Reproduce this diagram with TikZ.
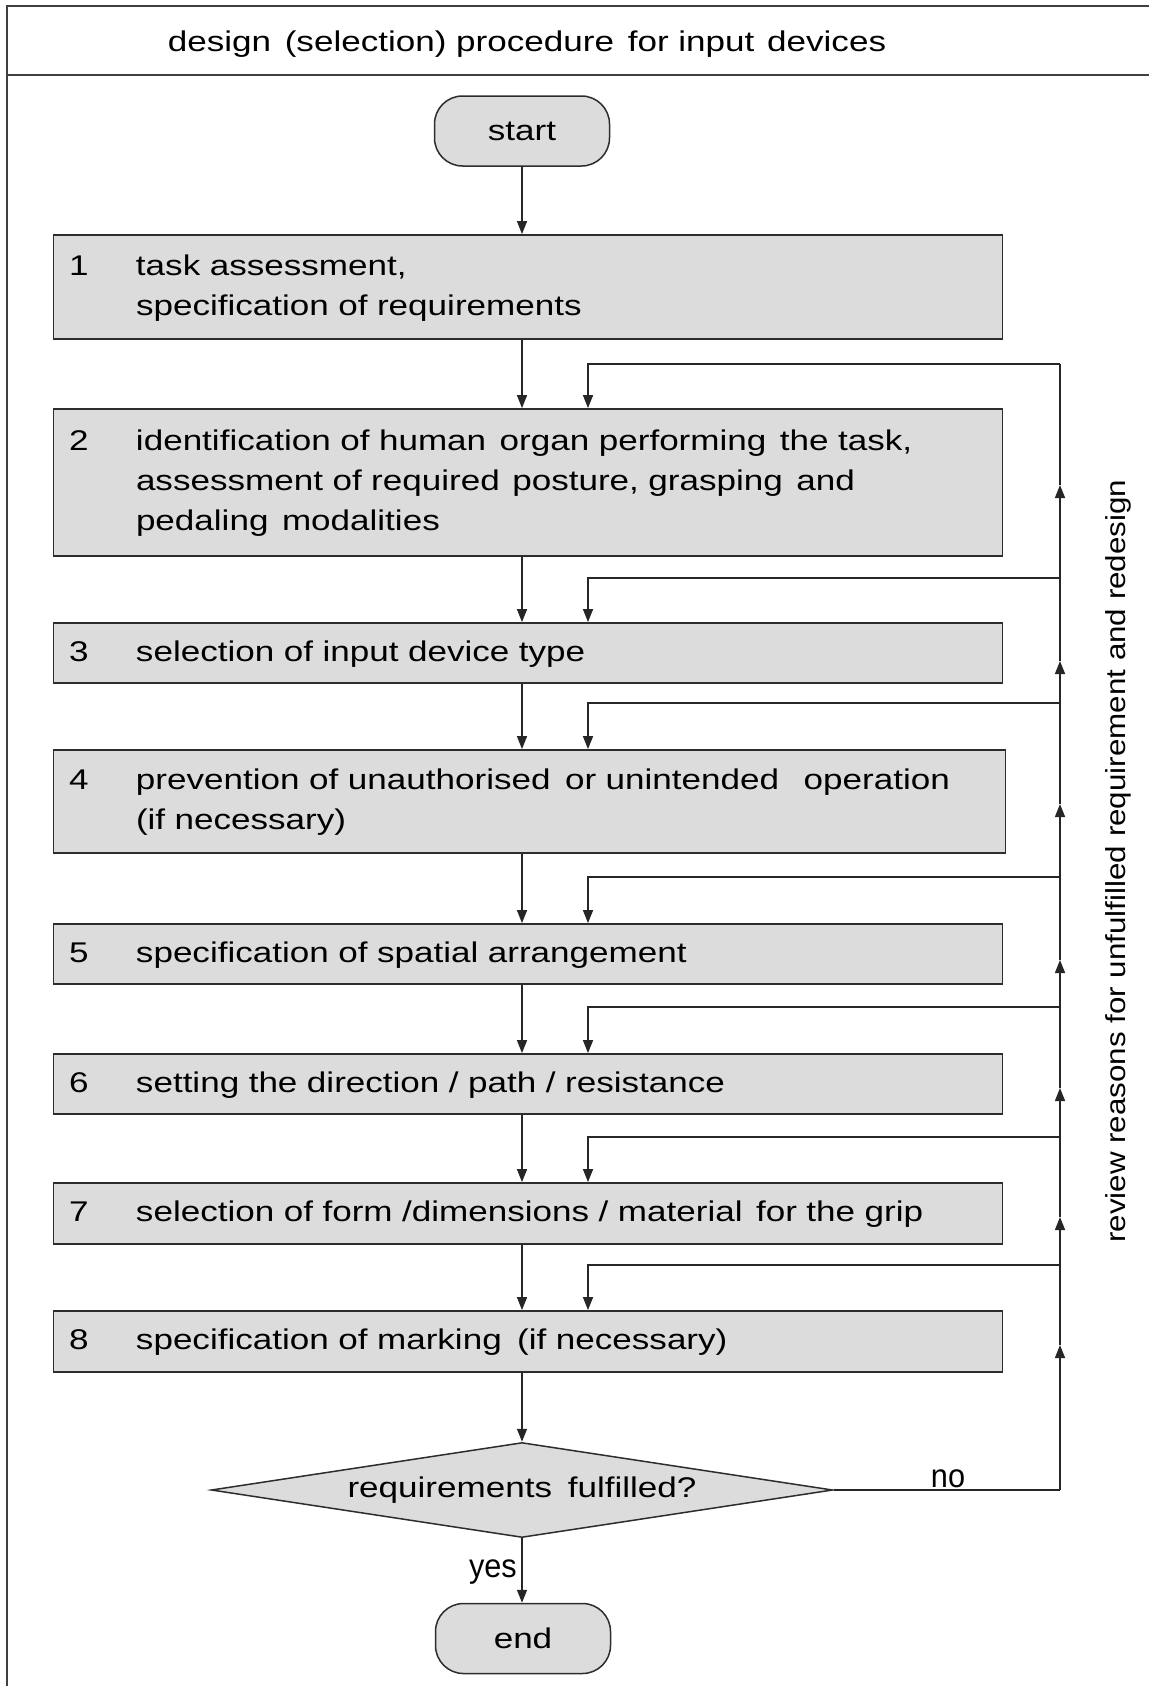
\documentclass[tikz,border=0pt]{standalone}
\usepackage{fontspec}
\setmainfont[FakeStretch=1.23]{Liberation Sans}
\newfontfamily\rotfont[FakeStretch=1.14]{Liberation Sans}
\newfontfamily\lblfont[FakeStretch=0.93]{Liberation Sans}
\usetikzlibrary{arrows.meta,shapes.geometric}
\definecolor{boxfill}{RGB}{220,220,220}
\definecolor{edgecol}{RGB}{45,45,45}
\newcommand\bxfont{\fontsize{28.5pt}{40pt}\selectfont}
\newcommand\rotsize{\rotfont\fontsize{27.5pt}{30pt}\selectfont}
\newcommand\lblsize{\lblfont\fontsize{33pt}{36pt}\selectfont}
\begin{document}
\begin{tikzpicture}[x=1pt, y=-1pt, font=\bxfont,
  stepbox/.style={draw=edgecol, line width=1.8pt, fill=boxfill, rectangle,
    inner xsep=15.5pt, inner ysep=0pt, text width=918pt, align=left, minimum height=#1},
  term/.style={draw=edgecol, line width=1.5pt, fill=boxfill, rounded corners=28pt,
    minimum width=175pt, minimum height=70pt, inner sep=0pt},
  decision/.style={diamond, draw=edgecol, line width=1.5pt, fill=boxfill, aspect=6.5,
    minimum width=621.5pt, minimum height=95pt, inner sep=0pt},
  conn/.style={line width=1.5pt, draw=black!85},
  arr/.style={conn, -{Triangle[length=13pt,width=10pt]}},
  framel/.style={line width=2pt, draw=black!75},
  lbl/.style={font=\lblsize, inner sep=0pt}
]
\useasboundingbox (0,0) rectangle (1149,1686);
% frame
\draw[framel] (1149,6) -- (7,6) -- (7,1686);
\draw[framel] (7,75) -- (1149,75);
\node[anchor=base, inner sep=0pt] (title) at (527,52) {design\hspace{4pt} (selection) procedure\hspace{4pt} for input\hspace{3pt} devices};

% nodes
\node[term] (start) at (522,131) {start};
\node[stepbox=104pt] (s1) at (528,287) {\begin{tabular}{@{}p{67pt}@{}l@{}}1 & task assessment,\\ & specification of requirements\end{tabular}};
\node[stepbox=147pt] (s2) at (528,482.5) {\begin{tabular}{@{}p{67pt}@{}l@{}}2 & identification of human\hspace{4pt} organ performing\hspace{4pt} the task,\\ & assessment of required\hspace{3pt} posture, grasping\hspace{4pt} and\\ & pedaling\hspace{4pt} modalities\end{tabular}};
\node[stepbox=60pt] (s3) at (528,653) {\begin{tabular}{@{}p{67pt}@{}l@{}}3 & selection of input device type\end{tabular}};
\node[stepbox=103pt, text width=921pt] (s4) at (529.5,801.5) {\begin{tabular}{@{}p{67pt}@{}l@{}}4 & prevention of unauthorised\hspace{5pt} or unintended\hspace{15pt} operation\\ & (if necessary)\end{tabular}};
\node[stepbox=60pt] (s5) at (528,954) {\begin{tabular}{@{}p{67pt}@{}l@{}}5 & specification of spatial arrangement\end{tabular}};
\node[stepbox=60pt] (s6) at (528,1084) {\begin{tabular}{@{}p{67pt}@{}l@{}}6 & setting the direction / path / resistance\end{tabular}};
\node[stepbox=61pt] (s7) at (528,1213.5) {\begin{tabular}{@{}p{67pt}@{}l@{}}7 & selection of form /dimensions / material\hspace{4pt} for the grip\end{tabular}};
\node[stepbox=61pt] (s8) at (528,1341.5) {\begin{tabular}{@{}p{67pt}@{}l@{}}8 & specification of marking\hspace{6pt} (if necessary)\end{tabular}};
\node[decision] (dec) at (522,1490) {requirements\hspace{6pt} fulfilled?};
\node[term] (end) at (523,1638.5) {end};

% main flow
\draw[arr] (start) -- (start |- s1.north);
\draw[arr] (s1.south -| start) -- (s2.north -| start);
\draw[arr] (s2.south -| start) -- (s3.north -| start);
\draw[arr] (s3.south -| start) -- (s4.north -| start);
\draw[arr] (s4.south -| start) -- (s5.north -| start);
\draw[arr] (s5.south -| start) -- (s6.north -| start);
\draw[arr] (s6.south -| start) -- (s7.north -| start);
\draw[arr] (s7.south -| start) -- (s8.north -| start);
\draw[arr] (s8.south -| start) -- (dec.north);
\draw[arr] (dec.south) -- (end.north -| dec);
\node[lbl, anchor=base east] (yes) at (517,1577) {yes};
\node[lbl, anchor=base] (no) at (948,1487) {no};

% feedback loop
\coordinate (fx) at (588,0);
\coordinate (r0) at (1060,1490);
\coordinate (t7) at (1060,1345);
\coordinate (fb7) at (1060,1265);
\coordinate (t6) at (1060,1217);
\coordinate (fb6) at (1060,1137);
\coordinate (t5) at (1060,1088);
\coordinate (fb5) at (1060,1007);
\coordinate (t4) at (1060,960);
\coordinate (fb4) at (1060,877);
\coordinate (t3) at (1060,804);
\coordinate (fb3) at (1060,703);
\coordinate (t2) at (1060,661);
\coordinate (fb2) at (1060,578);
\coordinate (t1) at (1060,485);
\coordinate (fb1) at (1060,364);

\draw[conn] (dec.east) -- (r0);
\draw[arr] (r0) -- (t7);
\draw[conn] (t7) -- (fb7);
\draw[arr] (fb7) -- (t6);
\draw[conn] (t6) -- (fb6);
\draw[arr] (fb6) -- (t5);
\draw[conn] (t5) -- (fb5);
\draw[arr] (fb5) -- (t4);
\draw[conn] (t4) -- (fb4);
\draw[arr] (fb4) -- (t3);
\draw[conn] (t3) -- (fb3);
\draw[arr] (fb3) -- (t2);
\draw[conn] (t2) -- (fb2);
\draw[arr] (fb2) -- (t1);
\draw[conn] (t1) -- (fb1);

\draw[arr] (fb1) -| (s2.north -| fx);
\draw[arr] (fb2) -| (s3.north -| fx);
\draw[arr] (fb3) -| (s4.north -| fx);
\draw[arr] (fb4) -| (s5.north -| fx);
\draw[arr] (fb5) -| (s6.north -| fx);
\draw[arr] (fb6) -| (s7.north -| fx);
\draw[arr] (fb7) -| (s8.north -| fx);

\node[rotate=90, anchor=base west, inner sep=0pt, font=\rotsize] (review) at (1125,1243) {review reasons for unfulfilled requirement and redesign};
\end{tikzpicture}
\end{document}
